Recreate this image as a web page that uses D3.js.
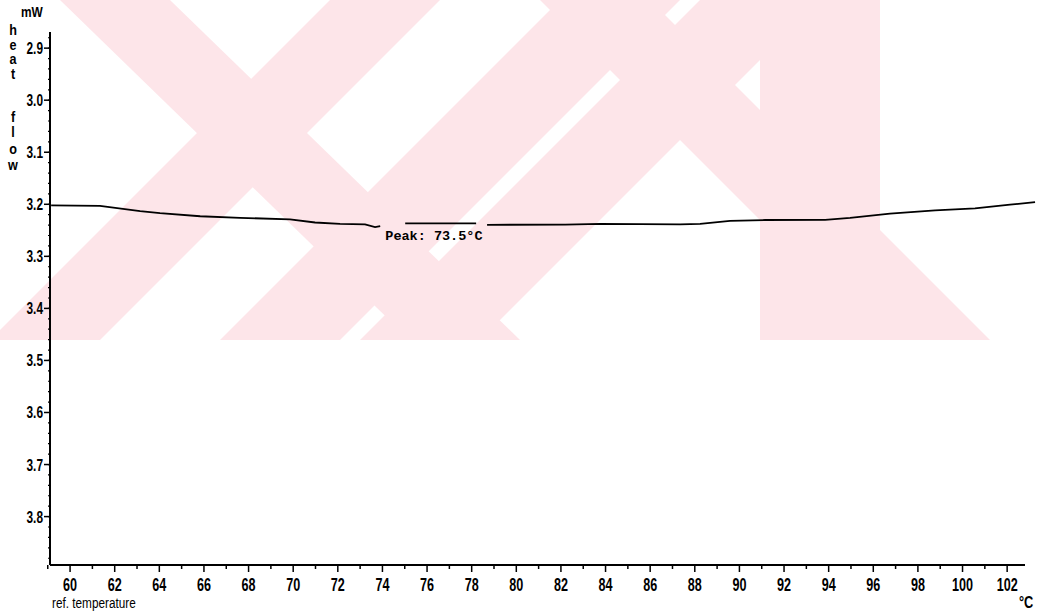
<!DOCTYPE html>
<html><head><meta charset="utf-8">
<script src="https://cdn.jsdelivr.net/npm/d3@7"></script>
<style>body{margin:0;background:#fff}svg{display:block}</style>
</head><body>
<svg id="c" width="1041" height="614"></svg>
<script>
// data: reference temperature (°C) and heat flow (mW); null = gap in trace
const temps = [59.15,61.34,63.14,64.03,65.83,67.62,69.86,70.98,72.10,73.22,73.67,73.9,null,75.02,78.2,null,78.69,82.19,83.76,87.34,88.24,89.58,91.15,93.84,94.96,96.75,98.77,100.56,102.13,103.25];
const heatFlow = [3.202,3.203,3.213,3.217,3.223,3.226,3.229,3.235,3.2375,3.2385,3.244,3.242,null,3.2365,3.2365,null,3.2394,3.239,3.2375,3.2385,3.2375,3.2317,3.2302,3.2298,3.226,3.218,3.2115,3.2077,3.2006,3.196];
const xTicks = [60,62,64,66,68,70,72,74,76,78,80,82,84,86,88,90,92,94,96,98,100,102];
const yTicks = [2.9,3.0,3.1,3.2,3.3,3.4,3.5,3.6,3.7,3.8];
const peakLabel = "Peak: 73.5°C";
const peakTemp = 73.5;

const svg = d3.select("#c");
const x = d3.scaleLinear().domain([59.1,102.8]).range([50,1025]);
const y = d3.scaleLinear().domain([2.869,3.893]).range([32,565]);

// watermark (decoration)
const clip = svg.append("clipPath").attr("id","wmclip");
clip.append("rect").attr("x",0).attr("y",0).attr("width",1041).attr("height",340);
const wg = svg.append("g").attr("fill","#fde5e9").attr("clip-path","url(#wmclip)");
const bands = [
  [[60,0],[170,0],[520,340],[410,340]],
  [[330,0],[440,0],[100,340],[-10,340]],
  [[560,0],[680,0],[340,340],[220,340]],
  [[700,0],[820,0],[480,340],[360,340]],
  [[540,0],[650,0],[990,340],[880,340]],
  [[760,0],[880,0],[880,340],[760,340]]
];
bands.forEach(p=>wg.append("path").attr("d","M"+p.map(q=>q.join(",")).join("L")+"Z"));

const fontAx = "'Liberation Sans','Arial',sans-serif";
function txt(g, tx, ty, s, opts){
  return g.append("text").attr("transform",`translate(${tx},${ty}) scale(${opts.sx||0.8},1)`)
    .attr("font-family",fontAx).attr("font-size",opts.size||14)
    .attr("font-weight",opts.bold?"bold":"normal")
    .attr("text-anchor",opts.anchor||"start").text(s);
}

// axes lines
svg.append("line").attr("x1",x.range()[0]).attr("x2",x.range()[0]).attr("y1",y.range()[0]).attr("y2",y.range()[1]).attr("stroke","#000").attr("stroke-width",2);
svg.append("line").attr("x1",x.range()[0]).attr("x2",x.range()[1]).attr("y1",y.range()[1]).attr("y2",y.range()[1]).attr("stroke","#000").attr("stroke-width",2);

// y ticks
const yMinor = d3.range(2.88,3.89,0.02);
svg.append("g").selectAll("line").data(yMinor).join("line")
  .attr("x1",48).attr("x2",50).attr("y1",d=>y(d)).attr("y2",d=>y(d)).attr("stroke","#000").attr("stroke-width",1.2);
svg.append("g").selectAll("line").data(yTicks).join("line")
  .attr("x1",44).attr("x2",50).attr("y1",d=>y(d)).attr("y2",d=>y(d)).attr("stroke","#000").attr("stroke-width",1.5);
const gy = svg.append("g");
yTicks.forEach(d=>txt(gy,43,y(d)+6,d.toFixed(1),{bold:true,size:16.5,anchor:"end",sx:0.72}));

// x ticks
const xMinor = d3.range(59,103,1).filter(d=>d%2!==0);
svg.append("g").selectAll("line").data(xMinor).join("line")
  .attr("x1",d=>x(d)).attr("x2",d=>x(d)).attr("y1",565).attr("y2",569).attr("stroke","#000").attr("stroke-width",1.5);
svg.append("g").selectAll("line").data(xTicks).join("line")
  .attr("x1",d=>x(d)).attr("x2",d=>x(d)).attr("y1",565).attr("y2",572).attr("stroke","#000").attr("stroke-width",1.5);
const gx = svg.append("g");
xTicks.forEach(d=>txt(gx,x(d),591,String(d),{bold:true,size:17.5,anchor:"middle",sx:0.72}));

// labels
txt(svg,52,608,"ref. temperature",{size:15.5,sx:0.76});
txt(svg,1019,608,"°C",{bold:true,size:16,sx:0.8});
txt(svg,21,17,"mW",{bold:true,size:14,sx:0.85});
const vert = ["h","e","a","t","","","f","l","o","w"];
const vy = [35,50,64,79,0,0,122,137,154,170];
vert.forEach((c,i)=>{ if(c) txt(svg,13,vy[i],c,{bold:true,size:14,anchor:"middle",sx:0.9}); });

// trace
const line = d3.line().defined((d,i)=>temps[i]!==null && heatFlow[i]!==null).x((d,i)=>x(temps[i])).y((d,i)=>y(heatFlow[i]));
svg.append("path").datum(temps).attr("d",line).attr("fill","none").attr("stroke","#000").attr("stroke-width",1.8);

// peak annotation
svg.append("text").attr("x",x(peakTemp)+14).attr("y",240).attr("font-family","'Liberation Mono','DejaVu Sans Mono',monospace").attr("font-weight","bold").attr("font-size",13.5).text(peakLabel);
</script>
</body></html>
